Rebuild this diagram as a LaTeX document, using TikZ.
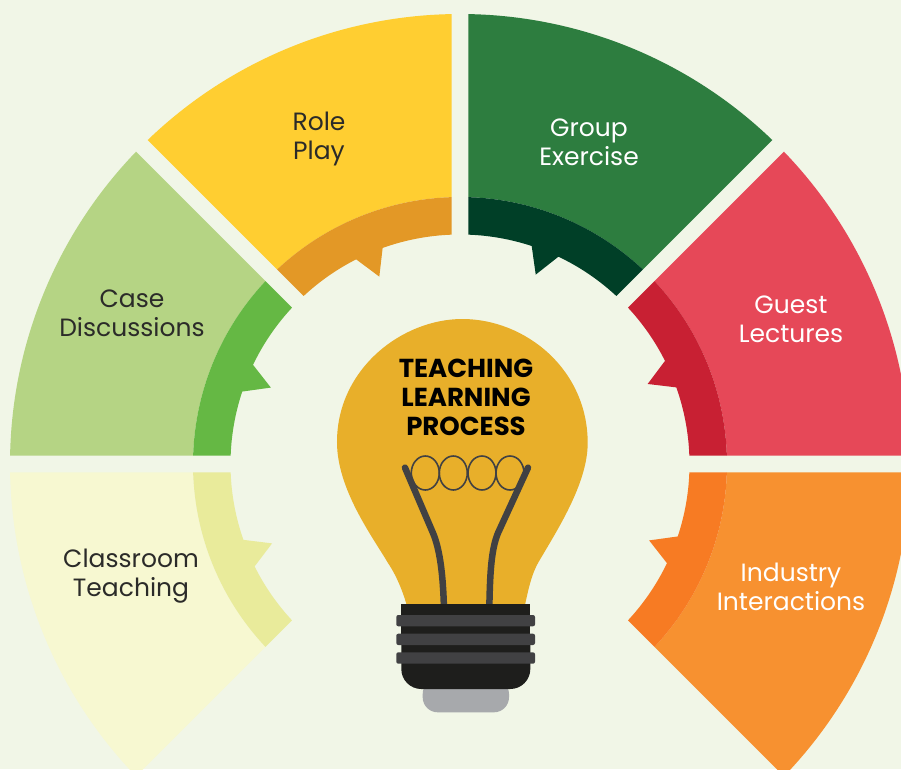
\documentclass[tikz,border=0pt]{standalone}
\usepackage{fontspec}
\setmainfont{Poppins}
\definecolor{paper}{HTML}{F1F6E7}
\definecolor{bulbgold}{HTML}{E8AF2A}
\definecolor{wiregrey}{HTML}{414143}
\definecolor{basedark}{HTML}{1E1E1C}
\definecolor{capgrey}{HTML}{A7A9AC}
\definecolor{inkdark}{HTML}{2B2B29}
\definecolor{paleouter}{HTML}{F7F8D1}
\definecolor{paleinner}{HTML}{E9EB9B}
\definecolor{leafouter}{HTML}{B5D484}
\definecolor{leafinner}{HTML}{65B844}
\definecolor{sunouter}{HTML}{FFCE31}
\definecolor{suninner}{HTML}{E39826}
\definecolor{pineouter}{HTML}{2D7D3F}
\definecolor{pineinner}{HTML}{003F27}
\definecolor{redouter}{HTML}{E64858}
\definecolor{redinner}{HTML}{C82033}
\definecolor{amberouter}{HTML}{F79130}
\definecolor{amberinner}{HTML}{F77B23}
\tikzset{
  sectortext/.style={font=\fontsize{25}{29}\selectfont,align=center,inner sep=0pt,text=inkdark},
  sectorwhite/.style={sectortext,text=white},
  headtext/.style={font=\fontsize{26}{29}\selectfont\bfseries,align=center,inner sep=0pt,text=black},
  wire/.style={draw=wiregrey,line width=6.5pt,line cap=round},
  coil/.style={draw=wiregrey,line width=1.6pt},
  ring/.style={fill=wiregrey,rounded corners=2pt},
}
% one sector between two axis angles, gaps of even width
\newcommand{\petal}[3]{%
  \pgfmathsetmacro{\sa}{#1+asin(8.3/450)}
  \pgfmathsetmacro{\sb}{#2-asin(8.3/450)}
  \pgfmathsetmacro{\sc}{#2-asin(8.3/267)}
  \pgfmathsetmacro{\sd}{#1+asin(8.3/267)}
  \fill[#3] (\sa:450) arc[start angle=\sa,end angle=\sb,radius=450]
    -- (\sc:267) arc[start angle=\sc,end angle=\sd,radius=267] -- cycle;
}
% the darker band on its inner side, with its small tooth
\newcommand{\band}[4]{%
  \pgfmathsetmacro{\sa}{#1+asin(8.3/267)}
  \pgfmathsetmacro{\sb}{#2-asin(8.3/267)}
  \pgfmathsetmacro{\sc}{#2-asin(8.3/229.5)}
  \pgfmathsetmacro{\sd}{#1+asin(8.3/229.5)}
  \pgfmathsetmacro{\se}{#3+3.6}
  \pgfmathsetmacro{\sf}{#3-3.6}
  \fill[#4] (\sa:267) arc[start angle=\sa,end angle=\sb,radius=267]
    -- (\sc:229.5) arc[start angle=\sc,end angle=\se,radius=229.5]
    -- (#3:204) -- (\sf:229.5) arc[start angle=\sf,end angle=\sd,radius=229.5] -- cycle;
}
\begin{document}
\begin{tikzpicture}[x=1pt,y=1pt]
  \useasboundingbox (-460,-305) rectangle (441,464);
  \clip (-460,-305) rectangle (441,464);
  \fill[paper] (-460,-305) rectangle (441,464);

  % sectors
  \petal{180}{225}{paleouter}
  \petal{135}{180}{leafouter}
  \petal{90}{135}{sunouter}
  \petal{45}{90}{pineouter}
  \petal{0}{45}{redouter}
  \petal{-45}{0}{amberouter}
  \band{180}{225}{202.9}{paleinner}
  \band{135}{180}{158}{leafinner}
  \band{90}{135}{113.3}{suninner}
  \band{45}{90}{68.2}{pineinner}
  \band{0}{45}{23.1}{redinner}
  \band{-45}{0}{-22}{amberinner}

  % bulb
  \fill[bulbgold] (-53.3,-141) .. controls (-60,-118) and (-68,-105) .. (-72,-99)
    .. controls (-88,-72) and (-123,-25) .. (-123,22)
    .. controls (-123,95) and (-58,145) .. (2.3,145)
    .. controls (65,145) and (127.7,95) .. (127.7,21)
    .. controls (127.7,-20) and (96,-68) .. (78,-99)
    .. controls (72,-110) and (69,-122) .. (65,-141) -- cycle;
  \foreach \cx in {-34.7,-6.7,22,50}
    \draw[coil] (\cx,-9) ellipse [x radius=14,y radius=17];
  \draw[wire] (-55,-3.7) -- (-27,-69) .. controls (-20,-86) and (-17,-110) .. (-16,-145);
  \draw[wire] (68,-3.7) -- (38,-69) .. controls (31,-86) and (30,-110) .. (29.3,-145);

  % screw base
  \fill[capgrey,rounded corners=15pt] (-37.3,-215) -- (-37.3,-248.3) -- (49,-248.3) -- (49,-215) -- cycle;
  \fill[basedark,rounded corners=20pt] (-58.7,-160) -- (-58.7,-225) -- (70.3,-225) -- (70.3,-160) -- cycle;
  \fill[basedark] (-58.7,-140.3) rectangle (70.3,-180);
  \fill[ring] (-63.7,-151) rectangle (75,-162.3);
  \fill[ring] (-63.7,-169.7) rectangle (75,-181);
  \fill[ring] (-63.7,-188.3) rectangle (75,-199.7);

  % texts
  \node[sectortext] (role) at (-141,325.5) {Role\\Play};
  \node[sectorwhite] (group) at (129,321.5) {Group\\Exercise};
  \node[sectortext] (case) at (-328,150.5) {Case\\Discussions};
  \node[sectorwhite] (guest) at (331,144.5) {Guest\\Lectures};
  \node[sectortext] (classroom) at (-329,-112) {Classroom\\Teaching};
  \node[sectorwhite] (industry) at (331,-122.5) {Industry\\Interactions};
  \node[headtext] (head) at (6,67) {TEACHING\\LEARNING\\PROCESS};
\end{tikzpicture}
\end{document}
